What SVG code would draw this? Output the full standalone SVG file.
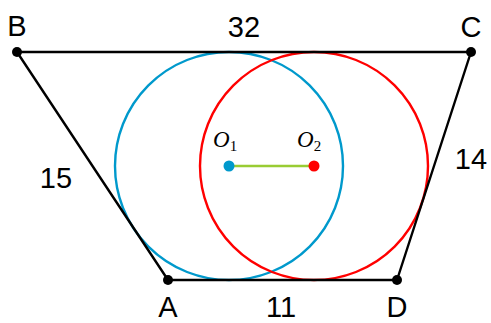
<svg xmlns="http://www.w3.org/2000/svg" width="491" height="323" viewBox="0 0 491 323">
<style>
.edge{stroke:#000;stroke-width:2.4;fill:none;stroke-linecap:round}
.pt{fill:#000}
.lbl{font-family:"Liberation Sans",Arial,sans-serif;font-size:29px;fill:#000;text-anchor:middle}
.math{font-family:"Liberation Serif","Times New Roman",serif;font-size:23px;fill:#000}
</style>
<rect width="491" height="323" fill="#fff"/>
<g id="circles">
<circle id="circle1" cx="229" cy="166" r="114" fill="none" stroke="#0099cc" stroke-width="2.4"/>
<circle id="circle2" cx="314" cy="166" r="114" fill="none" stroke="#ff0000" stroke-width="2.4"/>
</g>
<g id="connectors">
<path class="edge" d="M17 52 L471 52"/>
<path class="edge" d="M17 52 L168 280"/>
<path class="edge" d="M168 280 L397 280"/>
<path class="edge" d="M397 280 L471 52"/>
<path d="M229 166 L314 166" stroke="#99cc33" stroke-width="2.6"/>
</g>
<g id="B"><circle class="pt" cx="17" cy="52" r="5"/><text class="lbl" x="17" y="36">B</text></g>
<g id="C"><circle class="pt" cx="471" cy="52" r="5"/><text class="lbl" x="471" y="37">C</text></g>
<g id="A"><circle class="pt" cx="168" cy="280" r="5"/><text class="lbl" x="168" y="317">A</text></g>
<g id="D"><circle class="pt" cx="397" cy="280" r="5"/><text class="lbl" x="397" y="317">D</text></g>
<g id="O1"><circle cx="229" cy="166" r="5.5" fill="#0099cc"/><text class="math" x="213" y="147"><tspan font-style="italic">O</tspan><tspan font-size="15" dy="4">1</tspan></text></g>
<g id="O2"><circle cx="314" cy="166" r="5.5" fill="#ff0000"/><text class="math" x="297" y="147"><tspan font-style="italic">O</tspan><tspan font-size="15" dy="4">2</tspan></text></g>
<g id="labels">
<text class="lbl" x="244" y="37">32</text>
<text class="lbl" x="56" y="188">15</text>
<text class="lbl" x="471" y="169">14</text>
<text class="lbl" x="281" y="317">11</text>
</g>
</svg>
